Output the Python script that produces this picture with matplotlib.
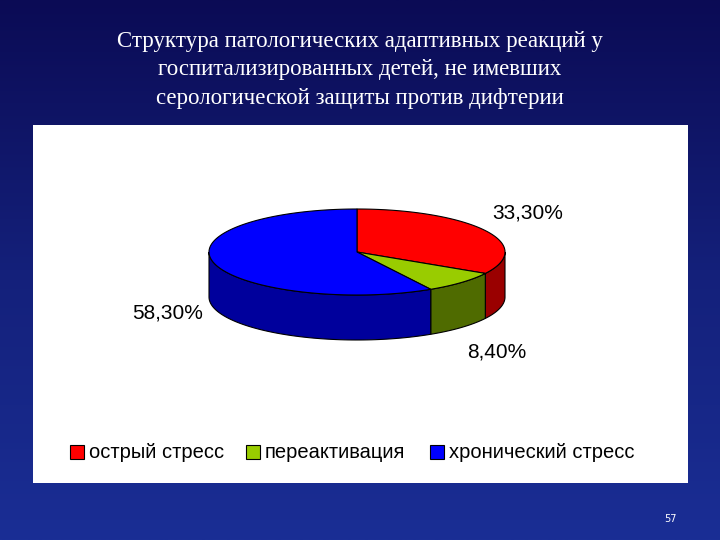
import numpy as np
import matplotlib
matplotlib.use("Agg")
import matplotlib.pyplot as plt
from matplotlib.patches import Polygon, Rectangle

categories = ["острый стресс", "переактивация", "хронический стресс"]
values = [33.3, 8.4, 58.3]
labels = ["33,30%", "8,40%", "58,30%"]
top_colors = ["#FF0000", "#99CC00", "#0000FF"]
side_colors = ["#9A0000", "#4F6B00", "#00009C"]
title = ("Структура патологических адаптивных реакций у\n"
         "госпитализированных детей, не имевших\n"
         "серологической защиты против дифтерии")

fig = plt.figure(figsize=(7.2, 5.4), dpi=100)
ax = fig.add_axes([0, 0, 1, 1])
ax.set_xlim(0, 720); ax.set_ylim(540, 0); ax.axis("off")

# background gradient
grad = np.linspace(0, 1, 256).reshape(-1, 1)
cmap = matplotlib.colors.LinearSegmentedColormap.from_list("bg", ["#0B0B55", "#14207A", "#1A2E95"])
ax.imshow(grad, extent=[0, 720, 540, 0], cmap=cmap, aspect="auto", zorder=0)

ax.add_patch(Rectangle((33, 125), 655, 358, facecolor="white", edgecolor="none", zorder=1))
ax.text(360, 70, title, color="white", ha="center", va="center", fontsize=16.5,
        family="Liberation Serif", linespacing=1.45, zorder=2)

cx, cy, rx, ry, depth = 357, 252, 148, 43, 45
def pt(a, d=0):
    return cx + rx*np.cos(np.radians(a)), cy - ry*np.sin(np.radians(a)) + d

start = 90.0
spans = []
for v in values:
    sweep = v/sum(values)*360
    spans.append((start - sweep, start))
    start -= sweep

# walls (front half: angles in [-180, 0])
for (a0, a1), sc in zip(spans, side_colors):
    lo, hi = max(a0, -180), min(a1, 0)
    if hi > lo:
        aa = np.linspace(lo, hi, 80)
        top = [pt(a) for a in aa]
        bot = [pt(a, depth) for a in aa[::-1]]
        ax.add_patch(Polygon(top + bot, closed=True, facecolor=sc, edgecolor="black", lw=0.8, zorder=3))
# tops
for (a0, a1), tc in zip(spans, top_colors):
    aa = np.linspace(a0, a1, 120)
    poly = [(cx, cy)] + [pt(a) for a in aa]
    ax.add_patch(Polygon(poly, closed=True, facecolor=tc, edgecolor="black", lw=0.8, zorder=4))

fs = 15
ax.text(528, 213, labels[0], fontsize=fs, family="Liberation Sans", ha="center", va="center", zorder=5)
ax.text(497, 352, labels[1], fontsize=fs, family="Liberation Sans", ha="center", va="center", zorder=5)
ax.text(168, 313, labels[2], fontsize=fs, family="Liberation Sans", ha="center", va="center", zorder=5)

lx = [70, 246, 430]
for x, c, t in zip(lx, top_colors, categories):
    ax.add_patch(Rectangle((x, 445), 14, 14, facecolor=c, edgecolor="black", lw=0.8, zorder=5))
    ax.text(x + 19, 452, t, fontsize=14.5, family="Liberation Sans", va="center", zorder=5)

ax.text(670, 519, "57", color="white", fontsize=7, ha="center", va="center", zorder=5)
fig.savefig("out.png", dpi=100)
